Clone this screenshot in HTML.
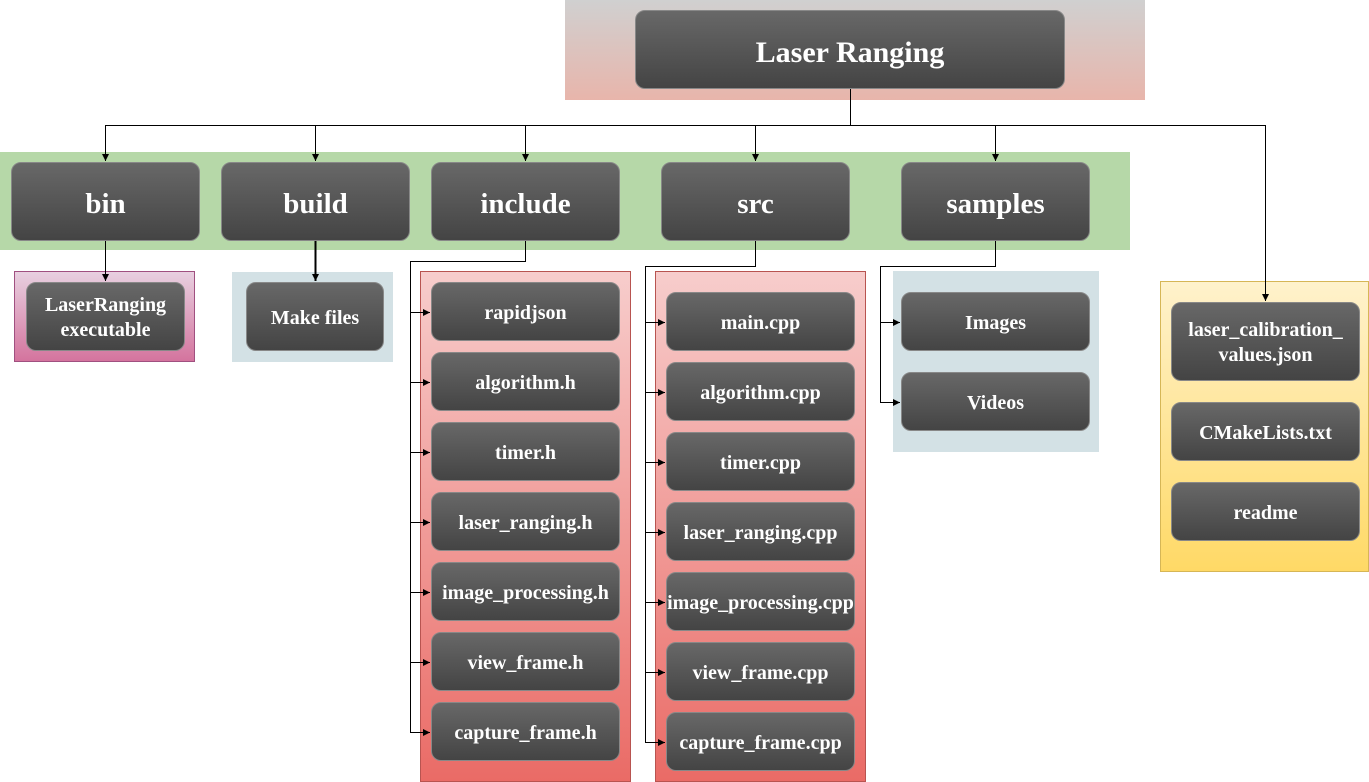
<!DOCTYPE html>
<html><head><meta charset="utf-8"><style>
body{margin:0;width:1369px;height:782px;background:#fff;position:relative;overflow:hidden;font-family:"Liberation Serif",serif}
.c{position:absolute;box-sizing:border-box}
.n{position:absolute;box-sizing:border-box;border-radius:10px;background:linear-gradient(#686868,#444);border:1px solid #888;color:#fff;font-weight:bold;display:flex;align-items:center;justify-content:center;text-align:center;font-size:20px;line-height:25px;padding-top:3px}
.big{font-size:29px;padding-top:5px}
.t{font-size:30px}
svg{position:absolute;left:0;top:0}
</style></head><body>
<div class="c" style="left:565px;top:0;width:580px;height:100px;background:linear-gradient(#d0d0d0,#e8b5ab)"></div>
<div class="n big t" style="left:635px;top:10px;width:430px;height:79px">Laser Ranging</div>
<div class="c" style="left:0;top:152px;width:1130px;height:98px;background:#b6d8a8"></div>
<div class="n big" style="left:11px;top:162px;width:189px;height:79px">bin</div>
<div class="n big" style="left:221px;top:162px;width:189px;height:79px">build</div>
<div class="n big" style="left:431px;top:162px;width:189px;height:79px">include</div>
<div class="n big" style="left:661px;top:162px;width:189px;height:79px">src</div>
<div class="n big" style="left:901px;top:162px;width:189px;height:79px">samples</div>

<div class="c" style="left:14px;top:271px;width:181px;height:91px;background:linear-gradient(#e8d0e0,#d4749e);border:1px solid #a05080"></div>
<div class="n" style="left:26px;top:282px;width:159px;height:69px">LaserRanging<br>executable</div>
<div class="c" style="left:232px;top:272px;width:161px;height:90px;background:#d3e1e5"></div>
<div class="n" style="left:246px;top:282px;width:138px;height:69px">Make files</div>

<div class="c" style="left:420px;top:271px;width:211px;height:511px;background:linear-gradient(#f7cdcc,#ea6b66);border:1px solid #b85450"></div>
<div class="n" style="left:431px;top:282px;width:189px;height:59px">rapidjson</div>
<div class="n" style="left:431px;top:352px;width:189px;height:59px">algorithm.h</div>
<div class="n" style="left:431px;top:422px;width:189px;height:59px">timer.h</div>
<div class="n" style="left:431px;top:492px;width:189px;height:59px">laser_ranging.h</div>
<div class="n" style="left:431px;top:562px;width:189px;height:59px">image_processing.h</div>
<div class="n" style="left:431px;top:632px;width:189px;height:59px">view_frame.h</div>
<div class="n" style="left:431px;top:702px;width:189px;height:59px">capture_frame.h</div>

<div class="c" style="left:655px;top:271px;width:211px;height:511px;background:linear-gradient(#f7cdcc,#ea6b66);border:1px solid #b85450"></div>
<div class="n" style="left:666px;top:292px;width:189px;height:59px">main.cpp</div>
<div class="n" style="left:666px;top:362px;width:189px;height:59px">algorithm.cpp</div>
<div class="n" style="left:666px;top:432px;width:189px;height:59px">timer.cpp</div>
<div class="n" style="left:666px;top:502px;width:189px;height:59px">laser_ranging.cpp</div>
<div class="n" style="left:666px;top:572px;width:189px;height:59px">image_processing.cpp</div>
<div class="n" style="left:666px;top:642px;width:189px;height:59px">view_frame.cpp</div>
<div class="n" style="left:666px;top:712px;width:189px;height:59px">capture_frame.cpp</div>

<div class="c" style="left:893px;top:271px;width:206px;height:181px;background:#d3e1e5"></div>
<div class="n" style="left:901px;top:292px;width:189px;height:59px">Images</div>
<div class="n" style="left:901px;top:372px;width:189px;height:59px">Videos</div>

<div class="c" style="left:1160px;top:281px;width:209px;height:291px;background:linear-gradient(#fff2cc,#ffd966);border:1px solid #d6b656"></div>
<div class="n" style="left:1171px;top:302px;width:189px;height:79px">laser_calibration_<br>values.json</div>
<div class="n" style="left:1171px;top:402px;width:189px;height:59px">CMakeLists.txt</div>
<div class="n" style="left:1171px;top:482px;width:189px;height:59px">readme</div>

<svg width="1369" height="782">
<defs><marker id="a" markerWidth="8" markerHeight="8" refX="7" refY="4" orient="auto" markerUnits="userSpaceOnUse"><path d="M0,0.5 L7,4 L0,7.5 Z" fill="#000"/></marker></defs>
<g stroke="#000" stroke-width="1" fill="none">
<path d="M850.5 89 V125.5 H105.5"/><path d="M850.5 125.5 H1265.5"/>
<path d="M105.5 125 V161" marker-end="url(#a)"/><path d="M315.5 125 V161" marker-end="url(#a)"/><path d="M525.5 125 V161" marker-end="url(#a)"/><path d="M755.5 125 V161" marker-end="url(#a)"/><path d="M995.5 125 V161" marker-end="url(#a)"/><path d="M1265.5 125 V301" marker-end="url(#a)"/>
<path d="M105.5 241 V281" marker-end="url(#a)"/><path d="M315.5 241 V281" stroke-width="2" marker-end="url(#a)"/>
<path d="M525.5 241 V261.5 H410.5 V732.5"/>
<path d="M410 312.5 H430" marker-end="url(#a)"/><path d="M410 382.5 H430" marker-end="url(#a)"/><path d="M410 452.5 H430" marker-end="url(#a)"/><path d="M410 522.5 H430" marker-end="url(#a)"/><path d="M410 592.5 H430" marker-end="url(#a)"/><path d="M410 662.5 H430" marker-end="url(#a)"/><path d="M410 732.5 H430" marker-end="url(#a)"/>
<path d="M755.5 241 V266.5 H645.5 V742.5"/>
<path d="M645 322.5 H665" marker-end="url(#a)"/><path d="M645 392.5 H665" marker-end="url(#a)"/><path d="M645 462.5 H665" marker-end="url(#a)"/><path d="M645 532.5 H665" marker-end="url(#a)"/><path d="M645 602.5 H665" marker-end="url(#a)"/><path d="M645 672.5 H665" marker-end="url(#a)"/><path d="M645 742.5 H665" marker-end="url(#a)"/>
<path d="M995.5 241 V266.5 H880.5 V402.5"/>
<path d="M880 322.5 H900" marker-end="url(#a)"/><path d="M880 402.5 H900" marker-end="url(#a)"/>
</g></svg>
</body></html>
